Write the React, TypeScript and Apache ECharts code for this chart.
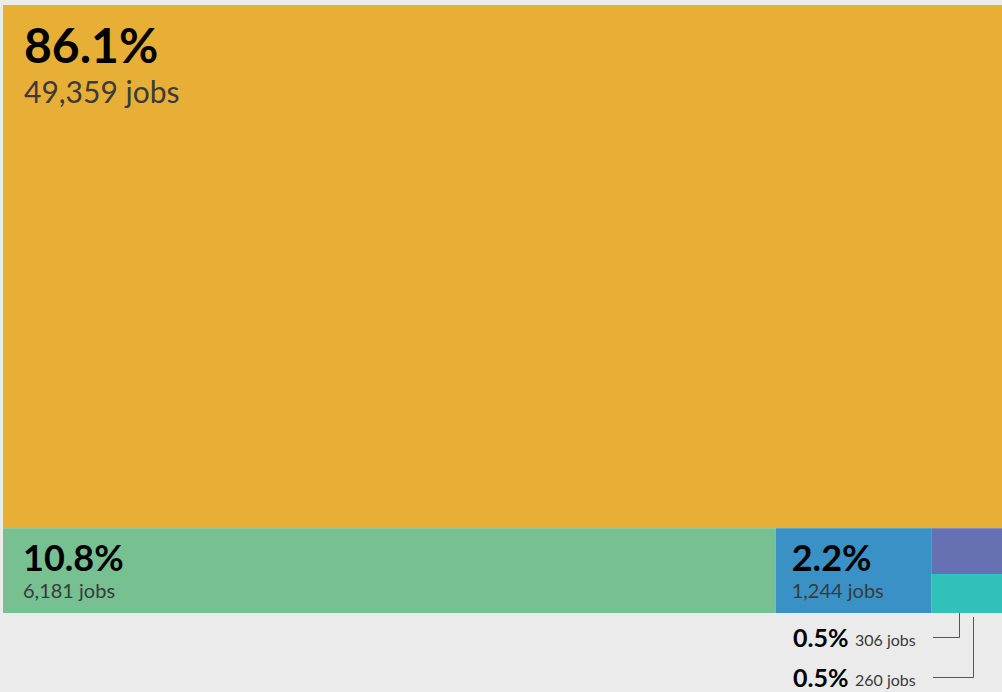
import React, { useEffect, useRef } from "react";
import * as echarts from "echarts";

const categories = ["Group A", "Group B", "Group C", "Group D", "Group E"];
const jobs = [49359, 6181, 1244, 306, 260];
const colors = ["#E8AF36", "#76C092", "#3A91C6", "#6671B4", "#30C2B9"];

const total = jobs.reduce((a, b) => a + b, 0);
const pctLabels = jobs.map((v) => ((v / total) * 100).toFixed(1) + "%");
const jobLabels = jobs.map((v) => v.toLocaleString("en-US") + " jobs");

// layout in unit square: first item spans the top; the rest share the bottom strip,
// the last two are stacked in one column
function computeLayout(vals: number[]) {
  const t = vals.reduce((a, b) => a + b, 0);
  const topH = vals[0] / t;
  const rest = t - vals[0];
  const out: number[][] = [[0, 0, 1, topH]];
  let x = 0;
  for (let i = 1; i <= 2; i++) {
    const w = vals[i] / rest;
    out.push([x, topH, x + w, 1]);
    x += w;
  }
  const g = vals[3] + vals[4];
  const split = topH + (1 - topH) * (vals[3] / g);
  out.push([x, topH, 1, split]);
  out.push([x, split, 1, 1]);
  return out;
}
const layout = computeLayout(jobs);

export default function App() {
  const ref = useRef<HTMLDivElement>(null);
  useEffect(() => {
    document.body.style.margin = "0";
    const chart = echarts.init(ref.current!, null, { renderer: "svg" });
    // cy: vertical centre of the capitals, relative to the rect top
    const big = [
      { pct: 48, jobs: 30, padX: 21, cy1: 39, cy2: 86 },
      { pct: 36, jobs: 20, padX: 20, cy1: 28.5, cy2: 62 },
      { pct: 36, jobs: 20, padX: 16, cy1: 28.5, cy2: 62 },
    ];
    const smallText = (idx: number, cy: number) => [
      {
        type: "text",
        x: 793,
        y: cy,
        style: {
          text: pctLabels[idx],
          font: "bold 25px Lato",
          fill: "#000",
          verticalAlign: "middle",
          lineHeight: 20,
        },
      },
      {
        type: "text",
        x: 855,
        y: cy + 2.5,
        style: {
          text: jobLabels[idx],
          font: "16px Lato",
          fill: "#3a3a3a",
          verticalAlign: "middle",
          lineHeight: 14,
        },
      },
    ];
    chart.setOption({
      animation: false,
      backgroundColor: "#EBEBEB",
      grid: { left: 3, right: 0, top: 5, bottom: 79 },
      xAxis: { type: "value", min: 0, max: 1, show: false },
      yAxis: { type: "value", min: 0, max: 1, inverse: true, show: false },
      series: [
        {
          type: "custom",
          data: jobs.map((v, i) => ({ value: [i, v], name: categories[i] })),
          renderItem: (params: any, api: any) => {
            const i = params.dataIndex;
            const [x0, y0, x1, y1] = layout[i];
            const p0 = api.coord([x0, y0]);
            const p1 = api.coord([x1, y1]);
            const children: any[] = [
              {
                type: "rect",
                shape: { x: p0[0], y: p0[1], width: p1[0] - p0[0], height: p1[1] - p0[1] },
                style: { fill: colors[i] },
              },
            ];
            if (i < 3) {
              const b = big[i];
              children.push({
                type: "text",
                x: p0[0] + b.padX,
                y: p0[1] + b.cy1,
                style: {
                  text: pctLabels[i],
                  fill: "#000",
                  font: `bold ${b.pct}px Lato`,
                  verticalAlign: "middle",
                  lineHeight: Math.round(b.pct * 0.8),
                },
              });
              children.push({
                type: "text",
                x: p0[0] + b.padX,
                y: p0[1] + b.cy2,
                style: {
                  text: jobLabels[i],
                  fill: "#3a3a3a",
                  font: `${b.jobs}px Lato`,
                  verticalAlign: "middle",
                  lineHeight: Math.round(b.jobs * 0.8),
                },
              });
            }
            return { type: "group", children };
          },
        },
      ],
      graphic: [
        ...smallText(3, 636.5),
        ...smallText(4, 676.5),
        {
          type: "polyline",
          shape: { points: [[933, 637.5], [959.5, 637.5], [959.5, 562]] },
          style: { stroke: "#555", lineWidth: 1, fill: null },
        },
        {
          type: "polyline",
          shape: { points: [[933, 677.5], [973.5, 677.5], [973.5, 617]] },
          style: { stroke: "#555", lineWidth: 1, fill: null },
        },
      ],
    });
    return () => chart.dispose();
  }, []);
  return (
    <div
      ref={ref}
      style={{ position: "fixed", left: 0, top: 0, width: 1002, height: 692 }}
    />
  );
}
